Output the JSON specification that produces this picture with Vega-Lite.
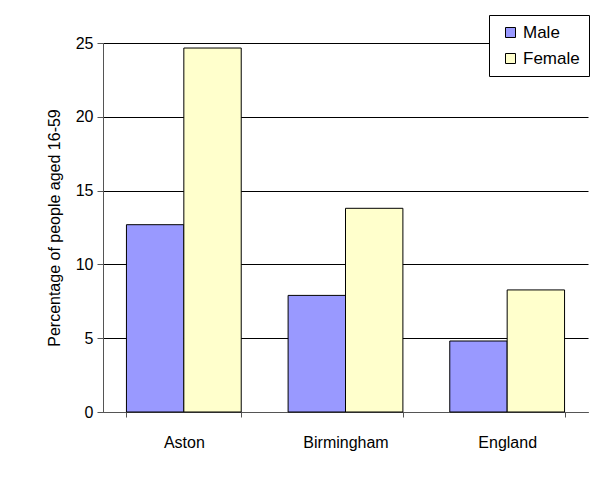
{
  "$schema": "https://vega.github.io/schema/vega-lite/v6.json",
  "autosize": "none",
  "width": 485,
  "height": 369,
  "padding": {"left": 103, "top": 43, "right": 22, "bottom": 67},
  "background": "white",
  "config": {
    "font": "Liberation Sans",
    "view": {"stroke": null},
    "axis": {"labelFont": "Liberation Sans", "titleFont": "Liberation Sans", "labelColor": "black", "titleColor": "black"}
  },
  "data": {
    "values": [
      {"area": "Aston", "sex": "Male", "pct": 12.69},
      {"area": "Aston", "sex": "Female", "pct": 24.66},
      {"area": "Birmingham", "sex": "Male", "pct": 7.9},
      {"area": "Birmingham", "sex": "Female", "pct": 13.8},
      {"area": "England", "sex": "Male", "pct": 4.81},
      {"area": "England", "sex": "Female", "pct": 8.27}
    ]
  },
  "mark": {"type": "bar", "stroke": "black", "strokeWidth": 1},
  "encoding": {
    "x": {
      "field": "area", "type": "nominal", "sort": ["Aston", "Birmingham", "England"],
      "scale": {"paddingInner": 0.29, "paddingOuter": 0.145},
      "axis": {
        "title": null, "labelAngle": 0, "labelFontSize": 16, "labelPadding": 17,
        "tickBand": "extent", "tickSize": 5, "tickColor": "#555555",
        "domainColor": "#555555", "grid": false
      }
    },
    "xOffset": {"field": "sex", "type": "nominal", "sort": ["Male", "Female"]},
    "y": {
      "field": "pct", "type": "quantitative",
      "scale": {"domain": [0, 25]},
      "axis": {
        "title": "Percentage of people aged 16-59", "titleFontSize": 16, "titleFontWeight": "normal",
        "titlePadding": 13,
        "values": [0, 5, 10, 15, 20, 25], "labelFontSize": 16, "labelPadding": 4,
        "tickSize": 6, "tickColor": "#555555", "domainColor": "#555555",
        "gridColor": "black", "gridOpacity": 1, "gridWidth": 1
      }
    },
    "color": {
      "field": "sex", "type": "nominal", "sort": ["Male", "Female"],
      "scale": {"domain": ["Male", "Female"], "range": ["#9999FF", "#FFFFCC"]},
      "legend": {
        "title": null, "orient": "none", "legendX": 386, "legendY": -28,
        "symbolType": "square", "symbolSize": 100, "symbolStrokeColor": "black", "symbolStrokeWidth": 1,
        "labelFontSize": 17, "labelFont": "Liberation Sans", "labelColor": "black",
        "strokeColor": "black", "fillColor": "white", "padding": 9, "rowPadding": 8,
        "symbolOffset": 4
      }
    }
  }
}
